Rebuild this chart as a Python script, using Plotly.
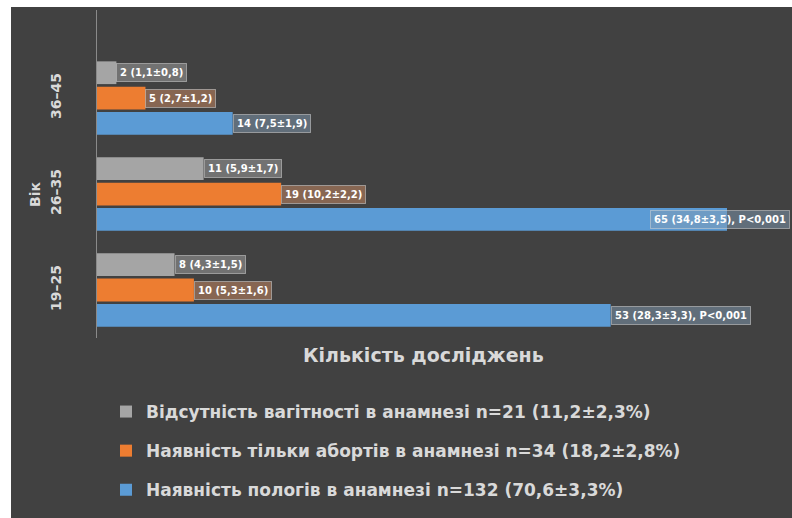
import plotly.graph_objects as go

# Age groups (bottom to top) and counts of examinations per group
age_groups = ["19–25", "26–35", "36–45"]

no_pregnancy = [8, 11, 2]
abortions_only = [10, 19, 5]
births = [53, 65, 14]

no_pregnancy_labels = ["8 (4,3±1,5)", "11 (5,9±1,7)", "2 (1,1±0,8)"]
abortions_only_labels = ["10 (5,3±1,6)", "19 (10,2±2,2)", "5 (2,7±1,2)"]
births_labels = ["53 (28,3±3,3), P<0,001", "65 (34,8±3,5), P<0,001", "14 (7,5±1,9)"]

legend_names = [
    "Відсутність вагітності в анамнезі n=21 (11,2±2,3%)",
    "Наявність тільки абортів в анамнезі n=34 (18,2±2,8%)",
    "Наявність пологів в анамнезі n=132 (70,6±3,3%)",
]

axis_title = "Кількість досліджень"
y_title = "Вік"

W, H = 792, 518
ML, MR, MT, MB = 97, 2, 10, 180
PW, PH = W - ML - MR, H - MT - MB
X_MAX = 71.5
Y_RANGE = [-0.5, 2.9167]
BG = "#414141"
TXT = "#d9d9d9"
FONT = "DejaVu Sans"

BARGAP = 0.21
GROUPGAP = 0.1
LABEL_SIZE = 10

colors = ["#a5a5a5", "#ed7d31", "#5b9bd5"]
box_fills = ["rgba(175,175,175,0.45)", "rgba(205,140,100,0.5)", "rgba(130,155,180,0.5)"]

fig = go.Figure()

# Plotly stacks grouped horizontal bars bottom-up, so add blue first;
# legendrank keeps the legend listed gray, orange, blue from the top
series = [
    (legend_names[2], births, births_labels, colors[2], box_fills[2], 3),
    (legend_names[1], abortions_only, abortions_only_labels, colors[1], box_fills[1], 2),
    (legend_names[0], no_pregnancy, no_pregnancy_labels, colors[0], box_fills[0], 1),
]

for name, vals, _, col, _, rank in series:
    fig.add_trace(go.Bar(
        y=age_groups, x=vals, orientation="h", name=name,
        marker=dict(color=col, line=dict(width=0)),
        legendgroup=name, legendrank=rank,
    ))

# value boxes at the end of each bar
px_per_unit_y = PH / (Y_RANGE[1] - Y_RANGE[0])
px_per_unit_x = PW / X_MAX
slot = (1 - BARGAP) / 3
for i, (name, vals, labels, col, fill, _) in enumerate(series):
    shift = (i - 1) * slot * px_per_unit_y
    for cat, v, lab in zip(age_groups, vals, labels):
        est_w = len(lab) * LABEL_SIZE * 0.68 + 12
        end_px = v * px_per_unit_x
        if end_px + est_w > PW:
            ax, anchor = X_MAX, "right"
        else:
            ax, anchor = v, "left"
        fig.add_annotation(
            x=ax, y=cat, xref="x", yref="y", yshift=shift,
            text="<b>" + lab + "</b>", showarrow=False, xanchor=anchor,
            font=dict(family=FONT, size=LABEL_SIZE, color="#ffffff"),
            bgcolor=fill, bordercolor="rgba(210,210,210,0.55)", borderwidth=1,
            borderpad=3,
        )

# faint separators between age groups
for yb in [0.5, 1.5, 2.5]:
    fig.add_shape(type="line", xref="paper", yref="y", x0=0, x1=1, y0=yb, y1=yb,
                  line=dict(color="#4e4e4e", width=1), layer="below")

# dark panel with thin white margins at the left and top
fig.add_shape(type="rect", xref="paper", yref="paper",
              x0=(11 - ML) / PW, x1=(W - ML) / PW,
              y0=(MT + PH - H) / PH, y1=(MT + PH - 7) / PH,
              fillcolor=BG, line=dict(width=0), layer="below")

fig.add_annotation(
    x=(423 - ML) / PW, y=(MT + PH - 355) / PH, xref="paper", yref="paper",
    xanchor="center", yanchor="middle",
    text="<b>" + axis_title + "</b>", showarrow=False,
    font=dict(family=FONT, size=19, color=TXT),
)
fig.add_annotation(
    x=(35 - ML) / PW, y=(MT + PH - 195) / PH, xref="paper", yref="paper",
    xanchor="center", yanchor="middle",
    text="<b>" + y_title + "</b>", showarrow=False, textangle=-90,
    font=dict(family=FONT, size=14, color=TXT),
)

fig.update_layout(
    width=W, height=H,
    margin=dict(l=ML, r=MR, t=MT, b=MB, pad=0),
    paper_bgcolor="#ffffff", plot_bgcolor="rgba(0,0,0,0)",
    barmode="group", bargap=BARGAP, bargroupgap=GROUPGAP,
    showlegend=True,
    legend=dict(
        x=(106 - ML) / PW, y=(MT + PH - 394) / PH, xanchor="left", yanchor="top",
        traceorder="grouped", tracegroupgap=14,
        font=dict(family=FONT, size=17, color=TXT, weight="bold"),
        bgcolor="rgba(0,0,0,0)", itemwidth=30,
    ),
    xaxis=dict(range=[0, X_MAX], showticklabels=False, showgrid=False,
               zeroline=False, showline=False, fixedrange=True),
    yaxis=dict(range=Y_RANGE, showgrid=False, zeroline=False,
               showline=True, linecolor="#8a8a8a", linewidth=1,
               tickangle=-90, ticklabelstandoff=29,
               tickfont=dict(family=FONT, size=14, color=TXT, weight="bold")),
)

fig.write_html("out.html")
